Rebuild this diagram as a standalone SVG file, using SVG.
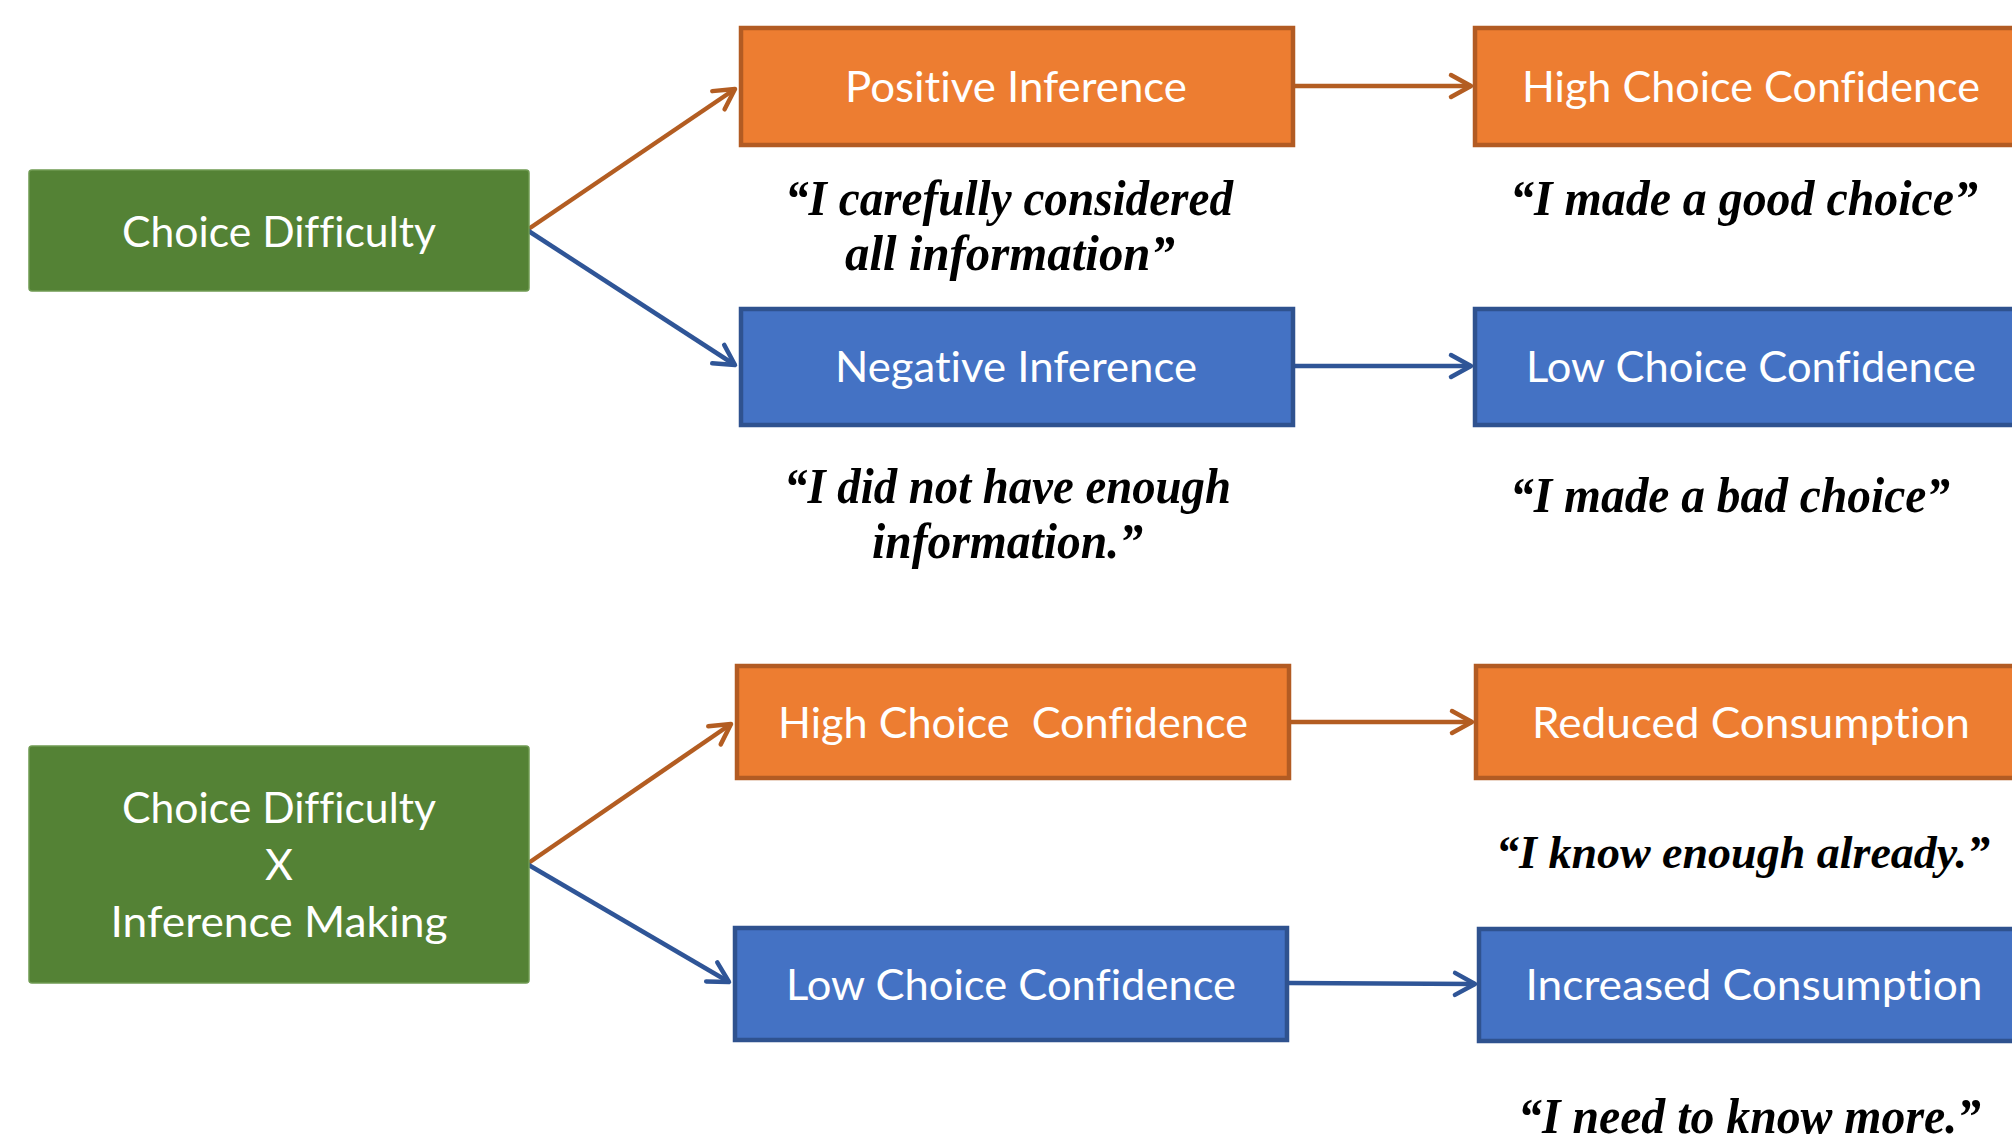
<svg xmlns="http://www.w3.org/2000/svg" width="2012" height="1144" viewBox="0 0 2012 1144">
<defs>
<style>
.bg{fill:#ffffff}
.green{fill:#548235;stroke:#6f9a52;stroke-width:1.5}
.orange{fill:#ED7D31;stroke:#B25B23;stroke-width:4.5}
.blue{fill:#4472C4;stroke:#2F528F;stroke-width:4.5}
.lbl{font-family:Lato,"Open Sans","Noto Sans",sans-serif;font-size:43px;fill:#ffffff;text-anchor:middle;font-variant-ligatures:none;font-feature-settings:"liga" 0,"dlig" 0}
.q{font-family:"Liberation Serif","Times New Roman",serif;font-size:51px;font-weight:bold;font-style:italic;fill:#000000}
.co{fill:none;stroke:#B35D22;stroke-width:4.5}
.cb{fill:none;stroke:#2F5597;stroke-width:4.5}
</style>
<marker id="ao" markerUnits="userSpaceOnUse" markerWidth="40" markerHeight="40" refX="0" refY="0" viewBox="-30 -20 40 40" orient="auto" overflow="visible">
<path d="M-20,-11 L0,0 L-20,11" fill="none" stroke="#B35D22" stroke-width="4.5" stroke-linecap="round" stroke-linejoin="round"/>
</marker>
<marker id="ab" markerUnits="userSpaceOnUse" markerWidth="40" markerHeight="40" refX="0" refY="0" viewBox="-30 -20 40 40" orient="auto" overflow="visible">
<path d="M-20,-11 L0,0 L-20,11" fill="none" stroke="#2F5597" stroke-width="4.5" stroke-linecap="round" stroke-linejoin="round"/>
</marker>
</defs>
<rect class="bg" x="0" y="0" width="2012" height="1144"/>

<g id="connectors">
<line class="co" x1="527" y1="230" x2="735" y2="89" marker-end="url(#ao)"/>
<line class="cb" x1="527" y1="230" x2="735" y2="365" marker-end="url(#ab)"/>
<line class="co" x1="1295" y1="86" x2="1471" y2="86" marker-end="url(#ao)"/>
<line class="cb" x1="1295" y1="366" x2="1471" y2="366" marker-end="url(#ab)"/>
<line class="co" x1="527" y1="864" x2="731" y2="724" marker-end="url(#ao)"/>
<line class="cb" x1="527" y1="864" x2="729" y2="982" marker-end="url(#ab)"/>
<line class="co" x1="1291" y1="722" x2="1472" y2="722" marker-end="url(#ao)"/>
<line class="cb" x1="1289" y1="983" x2="1475" y2="984" marker-end="url(#ab)"/>
</g>

<g id="choice-difficulty">
<rect class="green" x="29" y="170" width="500" height="121" rx="3"/>
<text class="lbl" x="279" y="247" textLength="314" lengthAdjust="spacingAndGlyphs">Choice Difficulty</text>
</g>

<g id="positive-inference">
<rect class="orange" x="741" y="28" width="552" height="117"/>
<text class="lbl" x="1016" y="102" textLength="342" lengthAdjust="spacingAndGlyphs">Positive Inference</text>
</g>

<g id="high-confidence-top">
<rect class="orange" x="1475" y="28" width="556" height="117"/>
<text class="lbl" x="1751" y="102" textLength="458" lengthAdjust="spacingAndGlyphs">High Choice Confidence</text>
</g>

<g id="negative-inference">
<rect class="blue" x="741" y="309" width="552" height="116"/>
<text class="lbl" x="1016" y="382" textLength="362" lengthAdjust="spacingAndGlyphs">Negative Inference</text>
</g>

<g id="low-confidence-top">
<rect class="blue" x="1475" y="309" width="556" height="116"/>
<text class="lbl" x="1751" y="382" textLength="450" lengthAdjust="spacingAndGlyphs">Low Choice Confidence</text>
</g>

<g id="difficulty-x-inference">
<rect class="green" x="29" y="746" width="500" height="237" rx="3"/>
<text class="lbl" x="279" y="823" textLength="314" lengthAdjust="spacingAndGlyphs">Choice Difficulty</text>
<text class="lbl" x="279" y="880">X</text>
<text class="lbl" x="279" y="937" textLength="337" lengthAdjust="spacingAndGlyphs">Inference Making</text>
</g>

<g id="high-confidence-bottom">
<rect class="orange" x="737" y="666" width="552" height="112"/>
<text class="lbl" x="1013" y="738" textLength="470" lengthAdjust="spacingAndGlyphs" xml:space="preserve">High Choice  Confidence</text>
</g>

<g id="reduced-consumption">
<rect class="orange" x="1476" y="666" width="556" height="112"/>
<text class="lbl" x="1751" y="738" textLength="438" lengthAdjust="spacingAndGlyphs">Reduced Consumption</text>
</g>

<g id="low-confidence-bottom">
<rect class="blue" x="735" y="928" width="552" height="112"/>
<text class="lbl" x="1011" y="1000" textLength="450" lengthAdjust="spacingAndGlyphs">Low Choice Confidence</text>
</g>

<g id="increased-consumption">
<rect class="blue" x="1479" y="929" width="556" height="112"/>
<text class="lbl" x="1754" y="1000" textLength="457" lengthAdjust="spacingAndGlyphs">Increased Consumption</text>
</g>

<g id="quotes">
<text class="q" x="785" y="215" textLength="448" lengthAdjust="spacingAndGlyphs">“I carefully considered</text>
<text class="q" x="845" y="270" textLength="330" lengthAdjust="spacingAndGlyphs">all information”</text>
<text class="q" x="1510" y="215" textLength="468" lengthAdjust="spacingAndGlyphs">“I made a good choice”</text>
<text class="q" x="784" y="503" textLength="447" lengthAdjust="spacingAndGlyphs">“I did not have enough</text>
<text class="q" x="872" y="558" textLength="271" lengthAdjust="spacingAndGlyphs">information.”</text>
<text class="q" x="1510" y="512" textLength="440" lengthAdjust="spacingAndGlyphs">“I made a bad choice”</text>
<text class="q" x="1990" y="868" text-anchor="end" style="font-size:47px" textLength="494" lengthAdjust="spacingAndGlyphs">“I know enough already.”</text>
<text class="q" x="1518" y="1133" textLength="463" lengthAdjust="spacingAndGlyphs">“I need to know more.”</text>
</g>
</svg>
